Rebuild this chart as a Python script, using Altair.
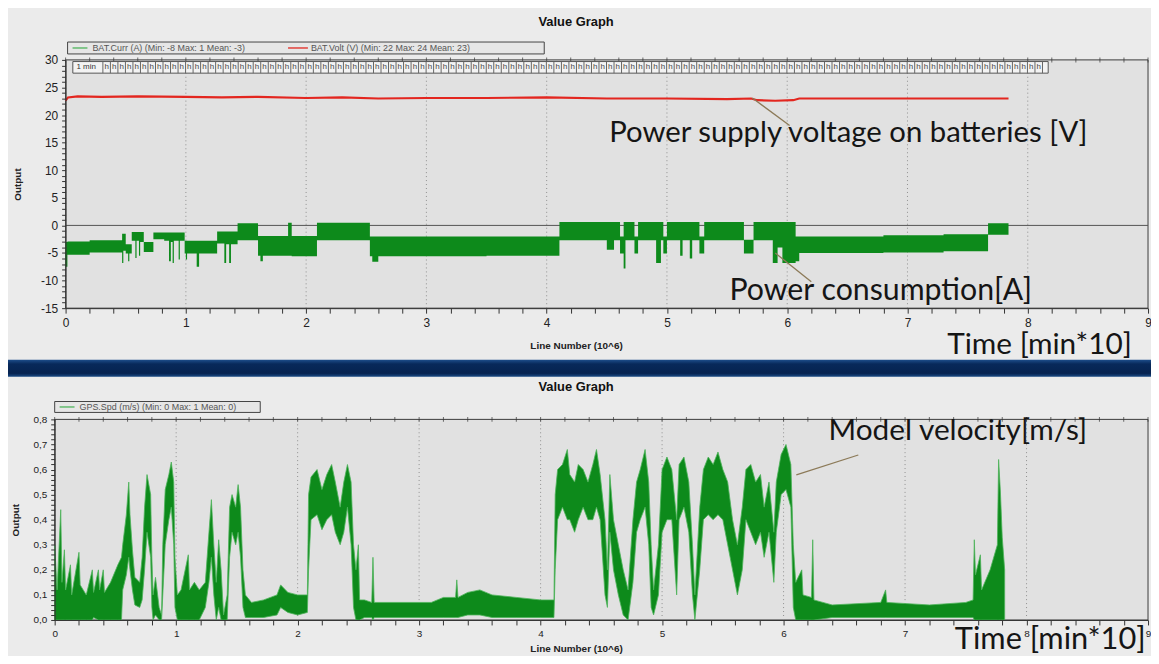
import altair as alt
import pandas as pd

W, H = 1151, 648
FONT = "Liberation Sans"
NOTE_FONT = "Lato"

# ---------------- data ----------------
# Battery current band (step segments): start x, upper edge, lower edge
cur_x = [0.000, 0.015, 0.20, 0.47, 0.48, 0.50, 0.52, 0.53, 0.55, 0.58, 0.59, 0.61, 0.62, 0.65,
         0.73, 0.82, 0.86, 0.875, 0.89, 0.90, 0.94, 0.95, 0.99, 1.00, 1.01, 1.09, 1.11, 1.26,
         1.32, 1.335, 1.36, 1.375, 1.43, 1.60, 1.62, 1.64, 1.85, 1.88, 2.09, 2.53, 2.55, 2.60,
         3.50, 4.106, 4.50, 4.56, 4.61, 4.64, 4.655, 4.73, 4.76, 4.91, 4.95, 4.97, 5.00, 5.11,
         5.13, 5.19, 5.21, 5.27, 5.31, 5.64, 5.72, 5.88, 5.92, 5.96, 6.07, 6.10, 6.80, 7.30,
         7.67, 7.84]
cur_hi = [-3.0, -2.9, -2.7, -1.5, -1.5, -3.4, -3.4, -3.4, -1.2, -1.2, -1.2, -1.2, -1.2, -3.0,
          -1.3, -1.3, -1.3, -1.3, -1.3, -1.3, -1.3, -1.3, -2.8, -2.8, -2.8, -2.8, -2.8, -1.1,
          -1.1, -1.1, -1.1, -1.1, 0.4, -1.9, -1.9, -1.9, 0.5, -1.9, 0.5, -2.0, -2.0, -2.0,
          -2.0, 0.6, 0.6, 0.6, -2.0, 0.6, 0.6, -2.0, 0.6, 0.6, 0.6, -2.0, 0.6, 0.6,
          0.6, 0.6, 0.6, -2.0, 0.6, -2.6, 0.6, 0.6, 0.6, 0.6, -2.0, -2.0, -1.8, -1.6,
          0.4, 0.4]
cur_lo = [-7.5, -5.3, -4.9, -6.8, -4.6, -5.1, -6.5, -5.1, -2.8, -5.9, -2.8, -5.5, -3.0, -4.8,
          -2.5, -2.8, -6.5, -3.0, -6.8, -2.8, -6.2, -2.8, -5.1, -6.2, -5.1, -7.5, -5.1, -3.3,
          -6.8, -3.4, -6.8, -3.4, -2.7, -5.5, -6.5, -5.5, -5.5, -5.6, -2.7, -5.6, -6.6, -5.6,
          -5.5, -2.7, -4.4, -2.7, -5.1, -7.8, -2.7, -5.1, -2.7, -6.8, -2.7, -5.1, -2.7, -5.5,
          -2.7, -6.0, -2.7, -5.1, -2.7, -5.1, -2.7, -6.8, -4.0, -6.8, -6.5, -5.0, -4.9, -4.7,
          -1.7, -1.7]

# Battery voltage
volt_x = [0.0, 0.02, 0.1, 0.3, 0.6, 1.0, 1.3, 1.6, 2.0, 2.3, 2.6, 3.0, 3.5, 4.0, 4.5, 5.0,
          5.5, 5.7, 5.75, 5.9, 6.05, 6.1, 6.5, 7.0, 7.5, 7.84]
volt_v = [22.6, 23.2, 23.4, 23.3, 23.4, 23.3, 23.2, 23.3, 23.1, 23.2, 23.0, 23.1, 23.1, 23.2,
          23.0, 23.0, 22.9, 23.0, 22.7, 22.6, 22.7, 23.0, 23.0, 23.0, 23.0, 23.0]

# GPS speed envelope
spd_x = [0.00, 0.02, 0.05, 0.06, 0.08, 0.09, 0.13, 0.14, 0.20, 0.21, 0.26, 0.31, 0.32, 0.36,
         0.37, 0.40, 0.41, 0.46, 0.52, 0.55, 0.56, 0.59, 0.61, 0.62, 0.64, 0.66, 0.70, 0.72,
         0.74, 0.76, 0.79, 0.80, 0.81, 0.83, 0.86, 0.88, 0.89, 0.91, 0.94, 0.96, 0.98, 0.99,
         1.01, 1.04, 1.10, 1.11, 1.15, 1.19, 1.24, 1.27, 1.29, 1.31, 1.33, 1.35, 1.37, 1.39,
         1.42, 1.44, 1.46, 1.49, 1.51, 1.53, 1.55, 1.57, 1.62, 1.72, 1.83, 1.86, 1.92, 2.00,
         2.08, 2.09, 2.11, 2.16, 2.20, 2.24, 2.28, 2.31, 2.35, 2.38, 2.41, 2.44, 2.46, 2.48,
         2.50, 2.51, 2.55, 2.61, 2.62, 2.63, 3.10, 3.20, 3.30, 3.31, 3.32, 3.40, 3.50, 3.60,
         3.80, 4.00, 4.11, 4.12, 4.14, 4.18, 4.22, 4.24, 4.28, 4.31, 4.35, 4.39, 4.43, 4.46,
         4.49, 4.53, 4.55, 4.57, 4.60, 4.64, 4.68, 4.72, 4.76, 4.79, 4.82, 4.86, 4.89, 4.91,
         4.93, 4.97, 5.00, 5.04, 5.08, 5.12, 5.14, 5.18, 5.22, 5.25, 5.27, 5.31, 5.34, 5.38,
         5.42, 5.46, 5.50, 5.54, 5.58, 5.62, 5.66, 5.69, 5.73, 5.77, 5.81, 5.84, 5.88, 5.92,
         5.94, 5.98, 6.02, 6.06, 6.08, 6.10, 6.15, 6.16, 6.23, 6.24, 6.25, 6.40, 6.80, 6.84,
         6.85, 7.20, 7.50, 7.56, 7.57, 7.58, 7.62, 7.63, 7.70, 7.76, 7.77, 7.785, 7.80, 7.82]
spd_lo = [0.00, 0.00, 0.00, 0.00, 0.00, 0.00, 0.00, 0.00, 0.00, 0.00, 0.00, 0.00, 0.01, 0.00,
          0.00, 0.00, 0.00, 0.00, 0.00, 0.00, 0.12, 0.18, 0.25, 0.20, 0.12, 0.06, 0.05, 0.08,
          0.20, 0.35, 0.25, 0.05, 0.00, 0.02, 0.00, 0.00, 0.10, 0.30, 0.40, 0.45, 0.30, 0.05,
          0.00, 0.00, 0.00, 0.00, 0.00, 0.00, 0.05, 0.15, 0.25, 0.10, 0.00, 0.05, 0.00, 0.00,
          0.00, 0.25, 0.35, 0.30, 0.35, 0.25, 0.05, 0.01, 0.01, 0.01, 0.02, 0.05, 0.03, 0.02,
          0.03, 0.20, 0.40, 0.42, 0.36, 0.40, 0.42, 0.35, 0.30, 0.35, 0.45, 0.30, 0.05, 0.00,
          0.00, 0.00, 0.01, 0.01, 0.00, 0.01, 0.01, 0.01, 0.01, 0.01, 0.01, 0.02, 0.02, 0.01,
          0.01, 0.01, 0.01, 0.20, 0.40, 0.45, 0.40, 0.40, 0.35, 0.40, 0.45, 0.40, 0.40, 0.45,
          0.40, 0.10, 0.05, 0.35, 0.20, 0.10, 0.02, 0.00, 0.15, 0.35, 0.40, 0.45, 0.30, 0.05,
          0.02, 0.10, 0.35, 0.40, 0.40, 0.10, 0.40, 0.45, 0.35, 0.10, 0.00, 0.20, 0.40, 0.42,
          0.40, 0.42, 0.40, 0.30, 0.20, 0.10, 0.20, 0.40, 0.35, 0.30, 0.35, 0.25, 0.35, 0.15,
          0.35, 0.50, 0.52, 0.45, 0.05, 0.00, 0.00, 0.00, 0.00, 0.00, 0.00, 0.01, 0.01, 0.01,
          0.01, 0.01, 0.01, 0.01, 0.00, 0.00, 0.00, 0.00, 0.00, 0.00, 0.00, 0.00, 0.00, 0.00]
spd_hi = [0.30, 0.12, 0.44, 0.15, 0.28, 0.12, 0.22, 0.10, 0.27, 0.14, 0.10, 0.20, 0.11, 0.20,
          0.12, 0.20, 0.11, 0.15, 0.22, 0.25, 0.30, 0.42, 0.55, 0.42, 0.28, 0.17, 0.15, 0.25,
          0.45, 0.58, 0.50, 0.25, 0.10, 0.17, 0.05, 0.02, 0.30, 0.52, 0.58, 0.63, 0.55, 0.25,
          0.10, 0.12, 0.26, 0.12, 0.15, 0.12, 0.15, 0.35, 0.48, 0.30, 0.15, 0.32, 0.20, 0.02,
          0.10, 0.45, 0.50, 0.45, 0.54, 0.45, 0.20, 0.10, 0.07, 0.08, 0.10, 0.14, 0.11, 0.10,
          0.10, 0.50, 0.57, 0.60, 0.52, 0.58, 0.62, 0.55, 0.45, 0.55, 0.62, 0.55, 0.30, 0.20,
          0.30, 0.08, 0.08, 0.07, 0.25, 0.07, 0.07, 0.09, 0.09, 0.16, 0.09, 0.11, 0.12, 0.10,
          0.09, 0.08, 0.08, 0.50, 0.60, 0.62, 0.68, 0.58, 0.55, 0.62, 0.60, 0.55, 0.62, 0.68,
          0.58, 0.40, 0.20, 0.58, 0.40, 0.30, 0.20, 0.12, 0.40, 0.55, 0.60, 0.68, 0.55, 0.30,
          0.12, 0.30, 0.60, 0.65, 0.60, 0.40, 0.62, 0.65, 0.55, 0.30, 0.10, 0.45, 0.60, 0.65,
          0.62, 0.67, 0.60, 0.55, 0.40, 0.30, 0.45, 0.60, 0.62, 0.55, 0.58, 0.45, 0.55, 0.35,
          0.55, 0.66, 0.70, 0.62, 0.30, 0.15, 0.20, 0.10, 0.09, 0.32, 0.08, 0.06, 0.07, 0.12,
          0.07, 0.06, 0.07, 0.08, 0.32, 0.18, 0.26, 0.12, 0.20, 0.30, 0.64, 0.51, 0.33, 0.20]

assert len(cur_x) == len(cur_hi) == len(cur_lo)
assert len(volt_x) == len(volt_v)
assert len(spd_x) == len(spd_lo) == len(spd_hi)

# texts
CUR_LABEL = "BAT.Curr (A) (Min: -8 Max: 1 Mean: -3)"
VOLT_LABEL = "BAT.Volt (V) (Min: 22 Max: 24 Mean: 23)"
SPD_LABEL = "GPS.Spd (m/s) (Min: 0 Max: 1 Mean: 0)"
TITLE = "Value Graph"
X_TITLE = "Line Number (10^6)"
Y_TITLE = "Output"
VOLT_NOTE = "Power supply voltage on batteries [V]"
CUR_NOTE = "Power consumption[A]"
SPD_NOTE = "Model velocity[m/s]"
TIME_NOTE = "Time [min*10]"

# axes: domains and tick lists
X_DOMAIN = [0, 9]
TOP_Y_DOMAIN = [-15, 30]
BOT_Y_DOMAIN = [0, 0.8]
GRID_X = [1, 2, 3, 4, 5, 6, 7, 8]
X_TICKS = [round(i * 0.2, 1) for i in range(46)]
TOP_Y_TICKS = list(range(-15, 31))
BOT_Y_TICKS = [round(i * 0.02, 2) for i in range(41)]

# ---------------- styles / layout ----------------
GREEN = "#0d8a1b"
GREEN_LIGHT = "#4db35a"
RED = "#e3261f"
PLOT_BG = "#e1e1e1"
FRAME = "#3a3a3a"
LEADER = "#8c7a58"

TOP_XR = [58, 1148]
TOP_YR = [300, 50]
BOT_XR = [47, 1148]
BOT_YR = [614, 412]

ONE = pd.DataFrame({"k": [0]})

INT_LABEL = "abs(datum.value - round(datum.value)) < 0.001 ? '' + round(datum.value) : ''"

common_axis = dict(grid=False, labelOverlap=False, labelFlush=False, tickColor="#333",
                   domainColor="#333", labelColor="#222", labelFont=FONT, titleFont=FONT,
                   titleColor="#222", titleFontWeight="bold", zindex=1)


class Panel:
    """Shared scales + axes of one panel; every layer uses the same definitions."""

    def __init__(self, xr, yr, ydom, axx, axy):
        self.xs = alt.Scale(domain=X_DOMAIN, range=xr, nice=False, zero=False)
        self.ys = alt.Scale(domain=ydom, range=yr, nice=False, zero=False)
        self.axx, self.axy, self.ydom = axx, axy, ydom

    def X(self, f):
        return alt.X(f, scale=self.xs, axis=self.axx)

    def Y(self, f, **kw):
        return alt.Y(f, scale=self.ys, axis=self.axy, **kw)

    def XD(self, v):
        return alt.XDatum(v, scale=self.xs, axis=self.axx)

    def YD(self, v):
        return alt.YDatum(v, scale=self.ys, axis=self.axy)

    def frame_layers(self):
        frame = pd.DataFrame({"x0": [X_DOMAIN[0]], "x1": [X_DOMAIN[1]],
                              "y0": [self.ydom[0]], "y1": [self.ydom[1]]})
        bg = alt.Chart(frame).mark_rect(fill=PLOT_BG, stroke=FRAME, strokeWidth=1).encode(
            x=self.X("x0:Q"), x2="x1:Q", y=self.Y("y0:Q"), y2="y1:Q")
        grid = alt.Chart(pd.DataFrame({"x": GRID_X})).mark_rule(
            color="#8f8f8f", strokeDash=[1, 3], strokeWidth=1).encode(
            x=self.X("x:Q"), y=self.YD(self.ydom[0]), y2=alt.Y2Datum(self.ydom[1]))
        topticks = alt.Chart(pd.DataFrame({"x": X_TICKS})).mark_tick(
            orient="vertical", size=5, thickness=1, color="#333").encode(
            x=self.X("x:Q"), y=self.YD(self.ydom[1]))
        return [bg, grid, topticks]

    def note(self, txt, nx, ny, size=30):
        return alt.Chart(ONE).mark_text(
            text=txt, align="left", baseline="middle", font=NOTE_FONT, fontSize=size,
            color="#151515").encode(x=self.XD(nx), y=self.YD(ny))

    def leader(self, x1, y1, x2, y2):
        return alt.Chart(ONE).mark_rule(color=LEADER, strokeWidth=1.3).encode(
            x=self.XD(x1), y=self.YD(y1), x2=alt.X2Datum(x2), y2=alt.Y2Datum(y2))


ax_top_x = alt.Axis(orient="bottom", offset=TOP_YR[0] - H, values=X_TICKS, labelExpr=INT_LABEL,
                    tickSize=5, labelFontSize=12, labelPadding=4, title=X_TITLE,
                    titleFontSize=10, titleX=572, titleY=38, titleBaseline="middle", **common_axis)
ax_top_y = alt.Axis(orient="left", offset=-TOP_XR[0], values=TOP_Y_TICKS,
                    labelExpr="datum.value % 5 == 0 ? '' + datum.value : ''",
                    tickSize=4, labelFontSize=12, labelPadding=4, title=Y_TITLE,
                    titleFontSize=10, titleX=-48, titleY=175, titleBaseline="middle", **common_axis)
ax_bot_x = alt.Axis(orient="bottom", offset=BOT_YR[0] - H, values=X_TICKS, labelExpr=INT_LABEL,
                    tickSize=5, labelFontSize=10, labelPadding=4, title=X_TITLE,
                    titleFontSize=10, titleX=572, titleY=29, titleBaseline="middle", **common_axis)
ax_bot_y = alt.Axis(orient="left", offset=-BOT_XR[0], values=BOT_Y_TICKS,
                    labelExpr="abs(datum.value * 10 - round(datum.value * 10)) < 0.001 ? replace(format(datum.value, '.1f'), '.', ',') : ''",
                    tickSize=4, labelFontSize=10, labelPadding=4, title=Y_TITLE,
                    titleFontSize=10, titleX=-39, titleY=513, titleBaseline="middle", **common_axis)

P1 = Panel(TOP_XR, TOP_YR, TOP_Y_DOMAIN, ax_top_x, ax_top_y)
P2 = Panel(BOT_XR, BOT_YR, BOT_Y_DOMAIN, ax_bot_x, ax_bot_y)

# ---- top panel ----
cur_df = pd.DataFrame({"x": cur_x, "hi": cur_hi, "lo": cur_lo})
volt_df = pd.DataFrame({"x": volt_x, "v": volt_v})

zero_line = alt.Chart(ONE).mark_rule(color="#555", strokeWidth=1).encode(
    x=P1.XD(X_DOMAIN[0]), x2=alt.X2Datum(X_DOMAIN[1]), y=P1.YD(0))

# time bar strip ("1 min | h | h ...")
TB_X = [0.06, 8.17]
TB_Y = [27.6, 29.7]
TB_FIRST = 0.31
TB_STEP = 0.0625
tb_cells = [round(TB_FIRST + i * TB_STEP, 4) for i in range(int((TB_X[1] - TB_FIRST) / TB_STEP) + 1)]
tb_rect = alt.Chart(pd.DataFrame({"a": [TB_X[0]], "b": [TB_X[1]], "c": [TB_Y[0]], "d": [TB_Y[1]]})).mark_rect(
    fill="#f3f3f3", stroke="#555", strokeWidth=1).encode(
    x=P1.X("a:Q"), x2="b:Q", y=P1.Y("c:Q"), y2="d:Q")
tb_div = alt.Chart(pd.DataFrame({"x": tb_cells})).mark_rule(color="#666", strokeWidth=1).encode(
    x=P1.X("x:Q"), y=P1.YD(TB_Y[0]), y2=alt.Y2Datum(TB_Y[1]))
tb_h = alt.Chart(pd.DataFrame({"x": [c + TB_STEP / 2 for c in tb_cells[:-1]]})).mark_text(
    text="h", fontSize=8, font=FONT, color="#444", baseline="middle").encode(
    x=P1.X("x:Q"), y=P1.YD(sum(TB_Y) / 2))
tb_min = alt.Chart(ONE).mark_text(text="1 min", fontSize=8, font=FONT, color="#333",
                                  align="left", baseline="middle").encode(
    x=P1.XD(0.09), y=P1.YD(sum(TB_Y) / 2))

cur_area = alt.Chart(cur_df).mark_area(interpolate="step-after", color=GREEN).encode(
    x=P1.X("x:Q"), y=P1.Y("hi:Q", stack=None), y2="lo:Q")
volt_line = alt.Chart(volt_df).mark_line(color=RED, strokeWidth=2.2).encode(
    x=P1.X("x:Q"), y=P1.Y("v:Q"))

top = alt.layer(
    *P1.frame_layers(), zero_line, tb_rect, tb_div, tb_h, tb_min, cur_area, volt_line,
    P1.note(VOLT_NOTE, 4.52, 16.7, 29.5), P1.note(CUR_NOTE, 5.52, -11.9, 30.5),
    P1.note(TIME_NOTE, 7.33, -21.6, 30),
    P1.leader(5.71, 23.1, 6.02, 18.1), P1.leader(5.90, -5.0, 6.20, -10.2),
)

# ---- bottom panel ----
spd_df = pd.DataFrame({"x": spd_x, "lo": spd_lo, "hi": spd_hi})
spd_area = alt.Chart(spd_df).mark_area(color=GREEN, stroke=GREEN_LIGHT, strokeWidth=0.8).encode(
    x=P2.X("x:Q"), y=P2.Y("hi:Q", stack=None), y2="lo:Q")

bottom = alt.layer(
    *P2.frame_layers(), spd_area,
    P2.note(SPD_NOTE, 6.37, 0.752, 30), P2.note(TIME_NOTE, 7.41, -0.08, 31),
    P2.leader(6.105, 0.579, 6.615, 0.658),
)


# ---- decorations in pixel space ----
def ptext(s, x, y, size, **kw):
    return alt.Chart(ONE).mark_text(text=s, fontSize=size, font=FONT, **kw).encode(
        x=alt.value(x), y=alt.value(y))


band = alt.Chart(ONE).mark_rect(
    color=alt.LinearGradient(gradient="linear", x1=0, x2=0, y1=0, y2=1,
                             stops=[alt.GradientStop(color="#1d4d8a", offset=0),
                                    alt.GradientStop(color="#08295a", offset=0.25),
                                    alt.GradientStop(color="#062350", offset=0.8),
                                    alt.GradientStop(color="#1a4a84", offset=1)])).encode(
    x=alt.value(0), x2=alt.value(W), y=alt.value(352), y2=alt.value(369))


def legend_box(x0, x1, y0, y1):
    return alt.Chart(ONE).mark_rect(fill="#e6e6e6", stroke="#444", strokeWidth=1).encode(
        x=alt.value(x0), x2=alt.value(x1), y=alt.value(y0), y2=alt.value(y1))


def legend_line(x0, x1, y, color):
    return alt.Chart(ONE).mark_rule(color=color, strokeWidth=1.3).encode(
        x=alt.value(x0), x2=alt.value(x1), y=alt.value(y))


deco = alt.layer(
    ptext(TITLE, 572, 12, 13, fontWeight="bold", color="#111", baseline="middle"),
    ptext(TITLE, 572, 379, 13, fontWeight="bold", color="#111", baseline="middle"),
    band,
    legend_box(60, 540, 32, 44),
    legend_line(65, 80, 38, GREEN_LIGHT),
    ptext(CUR_LABEL, 85, 38, 9, color="#555", align="left", baseline="middle"),
    legend_line(282, 302, 38, RED),
    ptext(VOLT_LABEL, 305, 38, 9, color="#555", align="left", baseline="middle"),
    legend_box(47, 254, 394, 405),
    legend_line(52, 67, 399.5, GREEN_LIGHT),
    ptext(SPD_LABEL, 72, 399.5, 9, color="#555", align="left", baseline="middle"),
)

chart = alt.layer(top, bottom, deco).resolve_scale(
    x="independent", y="independent"
).properties(
    width=W, height=H, autosize=alt.AutoSizeParams(type="none"), padding=0
).configure(background="#ebebeb").configure_view(stroke=None)

chart.save("out.html", embed_options={"renderer": "svg", "actions": False})
